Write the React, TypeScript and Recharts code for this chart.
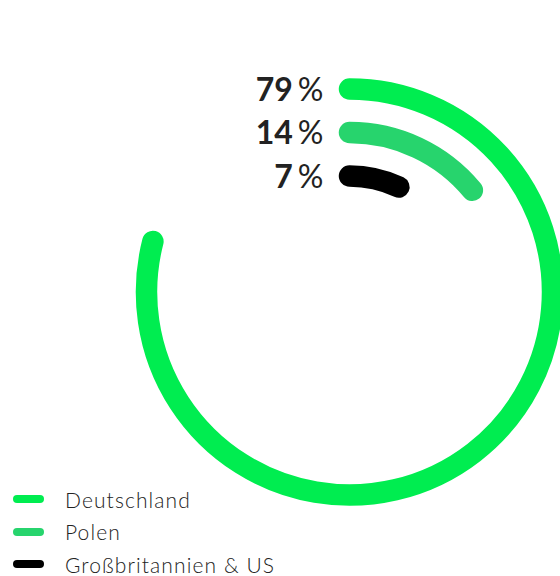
import React from 'react';
import { RadialBarChart, RadialBar, PolarAngleAxis } from 'recharts';

const categories = ['Großbritannien & US', 'Polen', 'Deutschland'];
const shares = [7, 14, 79];
const colors = ['#000000', '#27d46d', '#00ed50'];

const legendOrder = ['Deutschland', 'Polen', 'Großbritannien & US'];
const legendColors = ['#00ed50', '#27d46d', '#000000'];

const data = categories.map((name, i) => ({ name, value: shares[i], fill: colors[i] }));

const FONT = 'Lato, "Open Sans", sans-serif';

const RingShape = (props: any) => {
  const { cx, cy, innerRadius, outerRadius, startAngle, endAngle, fill, value } = props;
  const r = (innerRadius + outerRadius) / 2;
  const w = outerRadius - innerRadius;
  const rad = Math.PI / 180;
  const x1 = cx + r * Math.cos(startAngle * rad);
  const y1 = cy - r * Math.sin(startAngle * rad);
  const x2 = cx + r * Math.cos(endAngle * rad);
  const y2 = cy - r * Math.sin(endAngle * rad);
  const large = Math.abs(startAngle - endAngle) > 180 ? 1 : 0;
  const d = `M ${x1} ${y1} A ${r} ${r} 0 ${large} 1 ${x2} ${y2}`;
  const v = value ?? props.payload?.value;
  return (
    <g>
      <path d={d} fill="none" stroke={fill} strokeWidth={w} strokeLinecap="round" />
      <text
        x={cx - 26}
        y={cy - r + 11.5}
        textAnchor="end"
        fill="#222222"
        fontFamily={FONT}
        fontSize={32}
      >
        <tspan fontWeight={700}>{v}</tspan>
        <tspan dx={5} fontWeight={400}>%</tspan>
      </text>
    </g>
  );
};

export default function App() {
  return (
    <div style={{ position: 'absolute', left: 0, top: 0, width: 560, height: 576, background: '#fff' }}>
      <RadialBarChart
        width={560}
        height={576}
        data={data}
        cx={349.5}
        cy={292}
        innerRadius={94.25}
        outerRadius={224.75}
        startAngle={90}
        endAngle={-270}
        barSize={21.5}
        margin={{ top: 0, right: 0, bottom: 0, left: 0 }}
      >
        <PolarAngleAxis type="number" domain={[0, 100]} tick={false} axisLine={false} />
        <RadialBar dataKey="value" isAnimationActive={false} shape={RingShape} />
      </RadialBarChart>
      <div style={{ position: 'absolute', left: 13, top: 483, fontFamily: FONT }}>
        {legendOrder.map((name, i) => (
          <div key={name} style={{ display: 'flex', alignItems: 'center', height: 32.5 }}>
            <div style={{ width: 31, height: 8, borderRadius: 4, background: legendColors[i] }} />
            <span style={{ marginLeft: 21, fontSize: 21, fontWeight: 300, color: '#222', letterSpacing: 1.1 }}>{name}</span>
          </div>
        ))}
      </div>
    </div>
  );
}
